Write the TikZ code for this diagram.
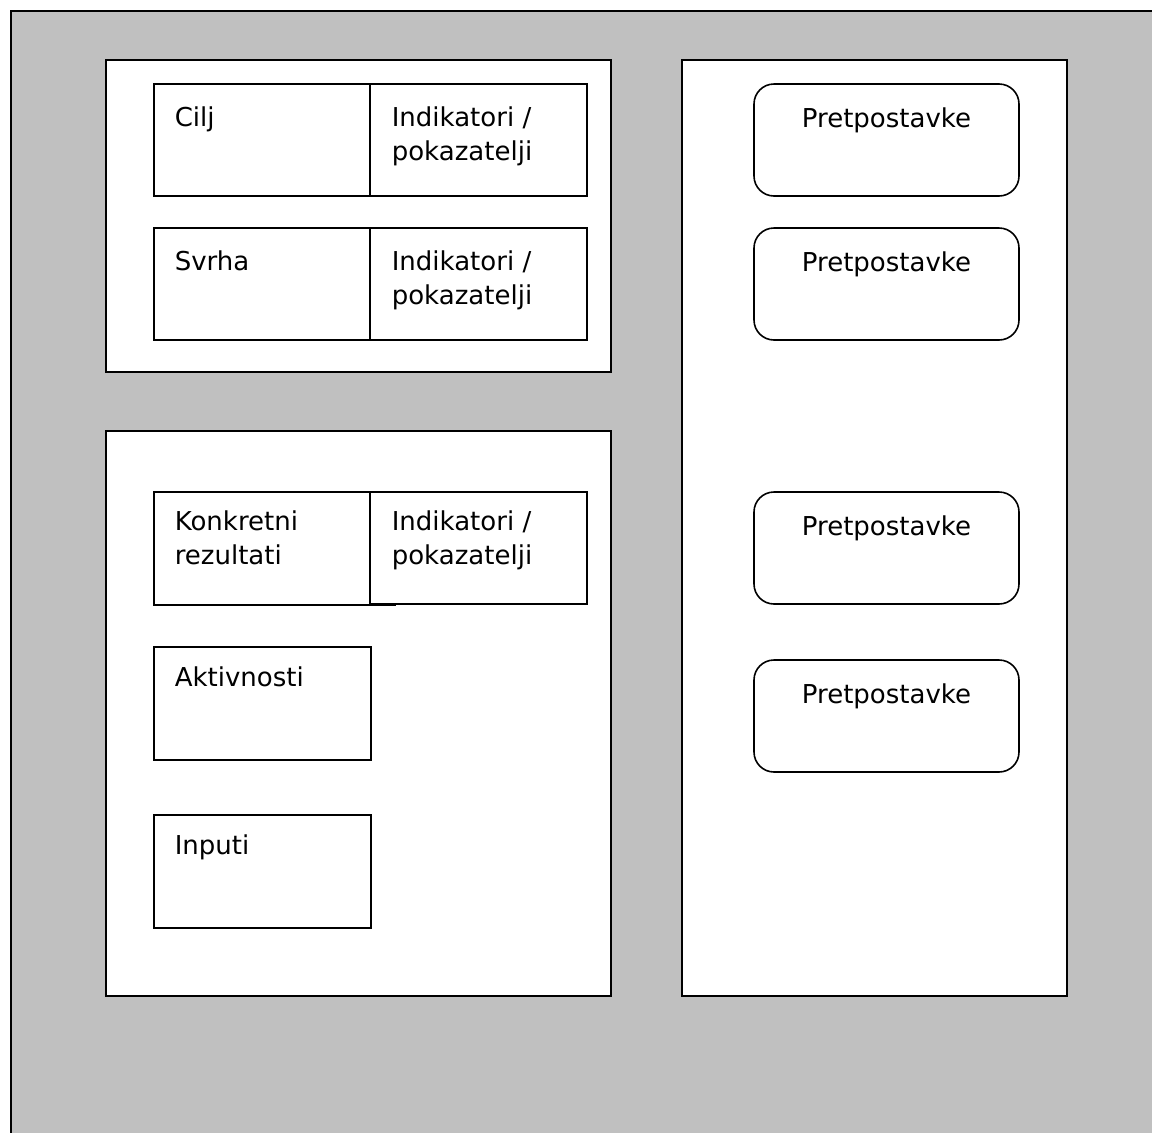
\documentclass[tikz,border=0pt]{standalone}
\usepackage{fontspec}
\setmainfont{DejaVu Sans}
\usetikzlibrary{calc}
\definecolor{panelgray}{RGB}{192,192,192}
\begin{document}
\begin{tikzpicture}[x=1pt,y=-1pt,
  line width=1.6pt,
  panel/.style={draw=black, fill=white, inner sep=0pt, outer sep=0pt, anchor=north west},
  cell/.style={draw=black, fill=white, inner sep=0pt, outer sep=0pt, anchor=north west},
  rcell/.style={cell, rounded corners=20pt},
  lbl/.style={inner sep=0pt, anchor=base west, align=left,
    font=\fontsize{26}{34}\selectfont},
  clbl/.style={inner sep=0pt, anchor=base, font=\fontsize{26}{34}\selectfont}
]
\useasboundingbox (0,0) rectangle (1152,1133);
\begin{scope}
\clip (0,0) rectangle (1152,1133);
% grey sheet, running off the right and bottom edges
\node[panel, fill=panelgray, line width=2pt, minimum width=1170pt, minimum height=1160pt] (sheet) at (10.5,10.5) {};
\end{scope}

% left upper panel: goal and purpose
\node[panel, minimum width=505pt, minimum height=312pt] (top) at (106,60) {};
\node[cell, minimum width=216pt, minimum height=112pt] (cilj) at (154,84) {};
\node[cell, minimum width=217pt, minimum height=112pt] (cind) at (370,84) {};
\node[cell, minimum width=216pt, minimum height=112pt] (svrha) at (154,228) {};
\node[cell, minimum width=217pt, minimum height=112pt] (sind) at (370,228) {};

% left lower panel: results, activities, inputs
\node[panel, minimum width=505pt, minimum height=565pt] (bottom) at (106,431) {};
\node[cell, minimum width=241pt, minimum height=113pt] (konk) at (154,492) {};
\node[cell, minimum width=217pt, minimum height=112pt] (kind) at (370,492) {};
\node[cell, minimum width=217pt, minimum height=113pt] (akt) at (154,647) {};
\node[cell, minimum width=217pt, minimum height=113pt] (inp) at (154,815) {};

% right panel: assumptions
\node[panel, minimum width=385pt, minimum height=936pt] (right) at (682,60) {};
\node[rcell, minimum width=265pt, minimum height=112pt] (p1) at (754,84) {};
\node[rcell, minimum width=265pt, minimum height=112pt] (p2) at (754,228) {};
\node[rcell, minimum width=265pt, minimum height=112pt] (p3) at (754,492) {};
\node[rcell, minimum width=265pt, minimum height=112pt] (p4) at (754,660) {};

% labels (two-line labels are anchored on their second baseline)
\node[lbl] (tcilj) at ($(cilj.north west)+(20,42)$) {Cilj};
\node[lbl] (tcind) at ($(cind.north west)+(21,76)$) {Indikatori /\\pokazatelji};
\node[lbl] (tsvrha) at ($(svrha.north west)+(20,42)$) {Svrha};
\node[lbl] (tsind) at ($(sind.north west)+(21,76)$) {Indikatori /\\pokazatelji};
\node[lbl] (tkonk) at ($(konk.north west)+(20,72)$) {Konkretni\\rezultati};
\node[lbl] (tkind) at ($(kind.north west)+(21,72)$) {Indikatori /\\pokazatelji};
\node[lbl] (takt) at ($(akt.north west)+(20,39)$) {Aktivnosti};
\node[lbl] (tinp) at ($(inp.north west)+(20,39)$) {Inputi};
\node[clbl] (tp1) at ($(p1.north)+(0,43)$) {Pretpostavke};
\node[clbl] (tp2) at ($(p2.north)+(0,43)$) {Pretpostavke};
\node[clbl] (tp3) at ($(p3.north)+(0,43)$) {Pretpostavke};
\node[clbl] (tp4) at ($(p4.north)+(0,43)$) {Pretpostavke};
\end{tikzpicture}
\end{document}
